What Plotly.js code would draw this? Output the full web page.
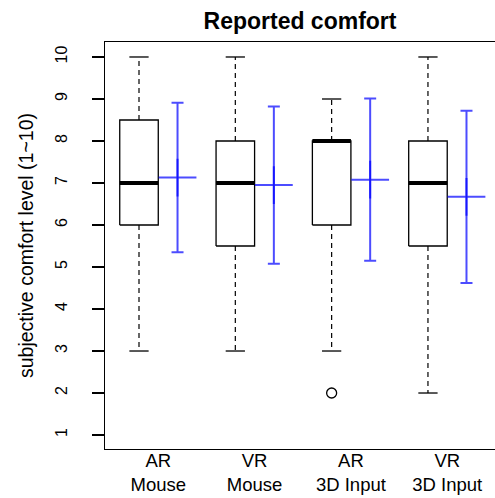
<!DOCTYPE html>
<html>
<head>
<meta charset="utf-8">
<script src="https://cdn.plot.ly/plotly-3.0.1.min.js"></script>
<style>html,body{margin:0;padding:0;background:#fff;}#chart{width:495px;height:498px;}</style>
</head>
<body>
<div id="chart"></div>
<script>
// ---- data ----
const categories = ['AR<br>Mouse', 'VR<br>Mouse', 'AR<br>3D Input', 'VR<br>3D Input'];
const boxMin    = [3, 3, 3, 2];
const boxQ1     = [6, 5.5, 6, 5.5];
const boxMedian = [7, 7, 8, 7];
const boxQ3     = [8.5, 8, 8, 8];
const boxMax    = [10, 10, 9, 10];
const outlierGroup = [3];
const outlierValue = [2];
const means = [7.13, 6.95, 7.08, 6.67];
const sds   = [1.78, 1.87, 1.93, 2.05];
const yTicks = [1, 2, 3, 4, 5, 6, 7, 8, 9, 10];

// ---- geometry (in category units) ----
const pos = categories.map((c, i) => i + 1);
const halfBox = 0.2, halfCap = 0.1, errOffset = 0.4, labelOffset = 0.2;

const rx = [], ry = [], wx = [], wy = [], cx = [], cy = [], mx = [], my = [];
pos.forEach((p, i) => {
  rx.push(p - halfBox, p + halfBox, p + halfBox, p - halfBox, p - halfBox, null);
  ry.push(boxQ1[i], boxQ1[i], boxQ3[i], boxQ3[i], boxQ1[i], null);
  wx.push(p, p, null, p, p, null);
  wy.push(boxQ3[i], boxMax[i], null, boxQ1[i], boxMin[i], null);
  cx.push(p - halfCap, p + halfCap, null, p - halfCap, p + halfCap, null);
  cy.push(boxMax[i], boxMax[i], null, boxMin[i], boxMin[i], null);
  mx.push(p - halfBox, p + halfBox, null);
  my.push(boxMedian[i], boxMedian[i], null);
});

const blue = 'rgba(0,0,255,0.7)';
const traces = [
  {x: wx, y: wy, mode: 'lines', line: {color: 'black', width: 1.2, dash: '5px,4px'}, hoverinfo: 'skip'},
  {x: cx, y: cy, mode: 'lines', line: {color: 'black', width: 1.3}, hoverinfo: 'skip'},
  {x: rx, y: ry, mode: 'lines', line: {color: 'black', width: 1.3}, hoverinfo: 'skip'},
  {x: mx, y: my, mode: 'lines', line: {color: 'black', width: 4}, hoverinfo: 'skip'},
  {x: outlierGroup, y: outlierValue, mode: 'markers',
   marker: {symbol: 'circle-open', size: 10, color: 'black', line: {color: 'black', width: 1.3}}},
  {x: pos.map(p => p + errOffset), y: means, mode: 'markers',
   marker: {symbol: 'cross-thin-open', size: 27, color: blue, line: {color: blue, width: 2}},
   error_y: {type: 'data', array: sds, visible: true, color: blue, thickness: 2, width: 6}}
];

const layout = {
  width: 495, height: 498,
  margin: {l: 105, r: 0, t: 42, b: 49},
  paper_bgcolor: 'white', plot_bgcolor: 'white',
  showlegend: false,
  font: {family: 'Liberation Sans, Arial, sans-serif', color: 'black'},
  title: {text: '<b>Reported comfort</b>', font: {size: 23, color: 'black'},
          x: 0.5, xref: 'paper', y: 1 - 21 / 498, yref: 'container', yanchor: 'middle'},
  xaxis: {
    range: [0.647, 4.696], showgrid: false, zeroline: false,
    showline: true, mirror: true, linecolor: 'black', linewidth: 1.3,
    ticks: '', tickmode: 'array', tickvals: pos.map(p => p + labelOffset), ticktext: categories,
    tickfont: {size: 18.5, color: 'black'}, ticklabelstandoff: -6
  },
  yaxis: {
    range: [0.667, 10.357], showgrid: false, zeroline: false,
    showline: true, linecolor: 'black', linewidth: 1.3,
    ticks: 'outside', ticklen: 12, tickwidth: 1.3, tickcolor: 'black',
    tickmode: 'array', tickvals: yTicks, tickangle: -90,
    tickfont: {size: 16, color: 'black'}, ticklabelstandoff: 18,
    title: {text: 'subjective comfort level (1~10)', font: {size: 19.5, color: 'black'}, standoff: 14}
  }
};

Plotly.newPlot('chart', traces, layout, {displayModeBar: false, staticPlot: true});
</script>
</body>
</html>
